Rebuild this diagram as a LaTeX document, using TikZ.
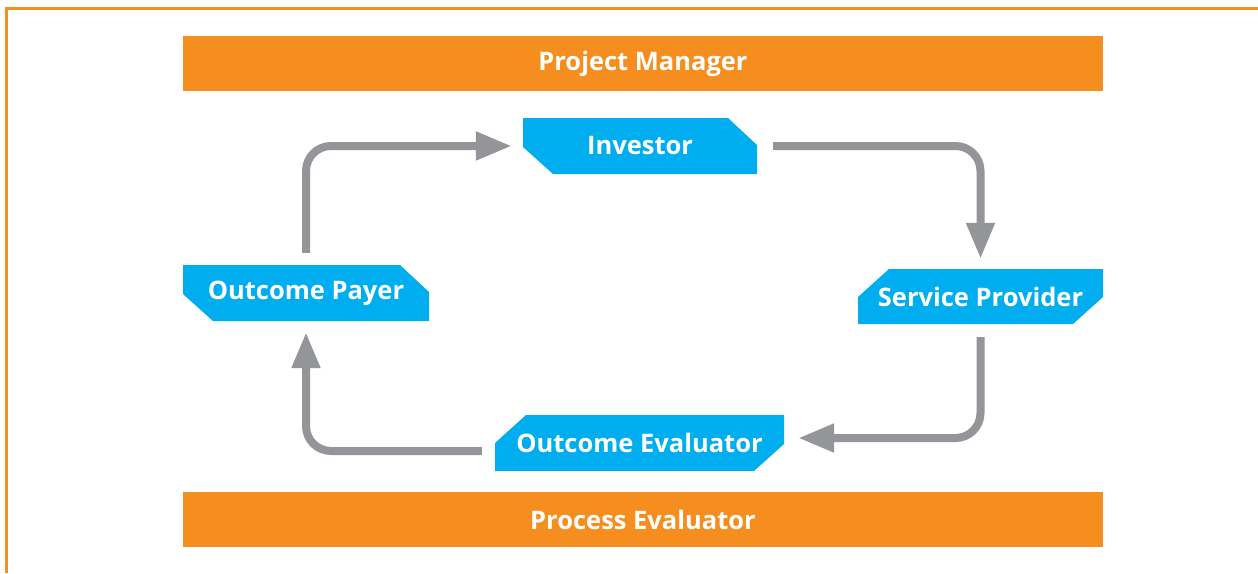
\documentclass[tikz,border=0pt]{standalone}
\usepackage{fontspec}
\setmainfont{Open Sans}
\usetikzlibrary{arrows.meta}
\definecolor{orng}{HTML}{F68E1F}
\definecolor{skyb}{HTML}{00AEEF}
\definecolor{arrgray}{HTML}{939598}
\tikzset{
  lbl/.style={text=white, font=\fontsize{25.5}{30}\selectfont\bfseries},
  bar/.style={lbl, fill=orng, minimum width=920pt, minimum height=55pt, inner sep=0pt},
  cutA/.style={lbl, inner sep=0pt, path picture={
      \fill[skyb] (path picture bounding box.north west)
        -- ([xshift=-29pt]path picture bounding box.north east)
        -- ([yshift=-27pt]path picture bounding box.north east)
        -- (path picture bounding box.south east)
        -- ([xshift=30pt]path picture bounding box.south west)
        -- ([yshift=27pt]path picture bounding box.south west) -- cycle;}},
  cutB/.style={lbl, inner sep=0pt, path picture={
      \fill[skyb] ([xshift=31pt]path picture bounding box.north west)
        -- (path picture bounding box.north east)
        -- ([yshift=27pt]path picture bounding box.south east)
        -- ([xshift=-30pt]path picture bounding box.south east)
        -- (path picture bounding box.south west)
        -- ([yshift=-28pt]path picture bounding box.north west) -- cycle;}},
  arr/.style={draw=arrgray, line width=8pt, rounded corners=25pt,
      -{Triangle[length=36pt, width=27pt]}, fill=none}
}
\begin{document}
\begin{tikzpicture}[x=1pt, y=-1pt]
\useasboundingbox (0,0) rectangle (1258,573);
\fill[white] (0,0) rectangle (1258,573);
\draw[orng, line width=3pt] (6.5,573) -- (6.5,8.5) -- (1258,8.5);

\node[bar] (pm) at (643,63.5) {Project Manager};
\node[bar] (pe) at (643,519.5) {Process Evaluator};

\node[cutA, minimum width=234pt, minimum height=56pt] (inv) at (640,146) {Investor};
\node[cutA, minimum width=246pt, minimum height=56pt] (op) at (306,293) {Outcome Payer};
\node[cutB, minimum width=245pt, minimum height=55pt] (sp) at (980.5,296.5) {Service Provider};
\node[cutB, minimum width=289pt, minimum height=56pt] (oe) at (639.5,443) {Outcome Evaluator};

\draw[arr, shorten <=16pt, shorten >=10pt] (inv.east) -| (sp.north);
\draw[arr, shorten <=13pt] (sp.south) |- ([xshift=14pt,yshift=5pt]oe.east);
\draw[arr, shorten <=13pt, shorten >=11pt] ([yshift=-8pt]oe.west) -| (op.south);
\draw[arr, shorten <=12pt] (op.north) |- ([xshift=-11pt]inv.west);
\end{tikzpicture}
\end{document}
